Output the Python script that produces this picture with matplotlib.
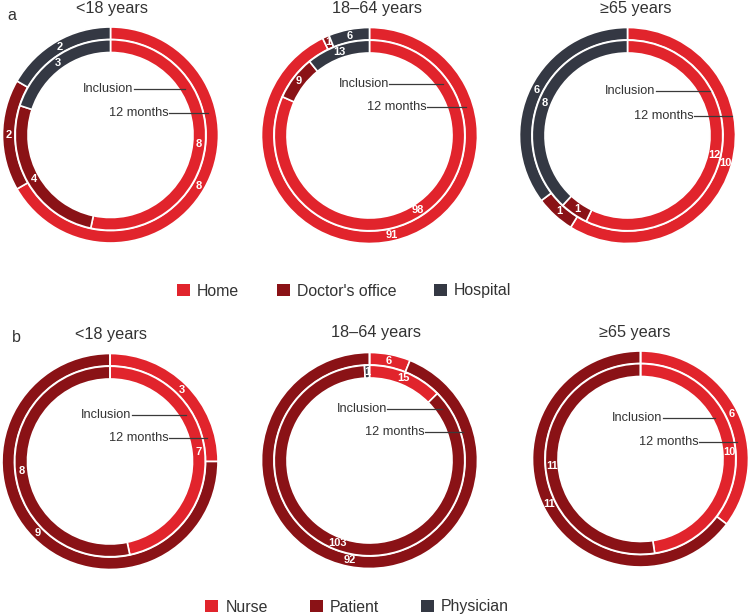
import matplotlib
matplotlib.use("Agg")
import matplotlib.pyplot as plt
from matplotlib.patches import Patch

plt.rcParams['font.family'] = ['Liberation Sans', 'DejaVu Sans']

# ---------------- data ----------------
age_groups = ['<18 years', '18–64 years', '≥65 years']

loc_categories = ['Home', "Doctor's office", 'Hospital']
loc_inclusion = [[8, 4, 3], [98, 9, 13], [12, 1, 8]]
loc_12months = [[8, 2, 2], [91, 1, 6], [10, 1, 6]]

admin_categories = ['Nurse', 'Patient', 'Physician']
admin_inclusion = [[7, 8, 0], [15, 103, 1], [10, 11, 0]]
admin_12months = [[3, 9, 0], [6, 92, 0], [6, 11, 0]]

colors = ['#E1242C', '#8A1216', '#343843']

# ---------------- layout ----------------
W, H = 750, 616
fig = plt.figure(figsize=(W / 100, H / 100), dpi=100)

R = 108
centers_a = [(110.5, 135), (369.5, 135.5), (627.5, 135.5)]
centers_b = [(110, 461.5), (369.5, 460.5), (640.5, 459)]
titles_a = [(112, 8), (377, 8), (636, 8)]
titles_b = [(111, 334), (376, 333), (635, 333)]
# (text_end_x, y, line_end_x) in radius units for Inclusion / 12 months
ann_a = [((0.21, 0.43, 0.69), (0.54, 0.20, 0.90)),
         ((0.18, 0.48, 0.68), (0.53, 0.26, 0.89)),
         ((0.26, 0.41, 0.76), (0.61, 0.18, 0.97))]
ann_b = [((0.20, 0.43, 0.70), (0.54, 0.22, 0.90)),
         ((0.16, 0.48, 0.67), (0.51, 0.26, 0.87)),
         ((0.20, 0.38, 0.69), (0.54, 0.16, 0.89))]

OUT_R, OUT_W = 1.0, 0.115
IN_R, IN_W = 0.882, 0.118


def make_pct(vals):
    total = sum(vals)

    def f(p):
        v = int(round(p * total / 100.0))
        return f'{v}' if v > 0 else ''
    return f


def donut(center, inner_vals, outer_vals, ann):
    cx, cy = center
    ax = fig.add_axes([(cx - R) / W, 1 - (cy + R) / H, 2 * R / W, 2 * R / H])
    for vals, rad, wid in ((outer_vals, OUT_R, OUT_W), (inner_vals, IN_R, IN_W)):
        wedges, texts, autotexts = ax.pie(
            vals, radius=rad, colors=colors, startangle=90, counterclock=False,
            wedgeprops=dict(width=wid, edgecolor='white', linewidth=1.2),
            autopct=make_pct(vals), pctdistance=(rad - wid / 2) / rad)
        for t in autotexts:
            t.set_color('white')
            t.set_fontsize(8)
            t.set_fontweight('bold')
    labels = ['Inclusion', '12 months']
    for lab, (tx, ty, lx) in zip(labels, ann):
        ax.text(tx, ty, lab, ha='right', va='center', fontsize=9.2, color='#333333')
        ax.plot([tx + 0.005, lx], [ty, ty], color='#3a3a3a', lw=0.9)
    ax.set_xlim(-1, 1)
    ax.set_ylim(-1, 1)
    ax.axis('off')


for i in range(3):
    donut(centers_a[i], loc_inclusion[i], loc_12months[i], ann_a[i])
    donut(centers_b[i], admin_inclusion[i], admin_12months[i], ann_b[i])
    tx, ty = titles_a[i]
    fig.text(tx / W, 1 - ty / H, age_groups[i], ha='center', va='center',
             fontsize=11.7, color='#333333')
    tx, ty = titles_b[i]
    fig.text(tx / W, 1 - ty / H, age_groups[i], ha='center', va='center',
             fontsize=11.7, color='#333333')

fig.text(12 / W, 1 - 15 / H, 'a', ha='center', va='center', fontsize=11.5, color='#333333')
fig.text(16 / W, 1 - 338 / H, 'b', ha='center', va='center', fontsize=11.5, color='#333333')

leg_kw = dict(ncol=3, frameon=False, fontsize=11.4, handlelength=0.82, handleheight=0.82,
              handletextpad=0.44, borderpad=0, loc='center', labelcolor='#333333')
handles_a = [Patch(facecolor=c, edgecolor='none') for c in colors]
fig.legend(handles_a, loc_categories, bbox_to_anchor=(344 / W, 1 - 291 / H),
           columnspacing=2.4, **leg_kw)
handles_b = [Patch(facecolor=c, edgecolor='none') for c in colors]
fig.legend(handles_b, admin_categories, bbox_to_anchor=(357 / W, 1 - 607 / H),
           columnspacing=2.65, **leg_kw)

fig.savefig('out.png', dpi=100)
